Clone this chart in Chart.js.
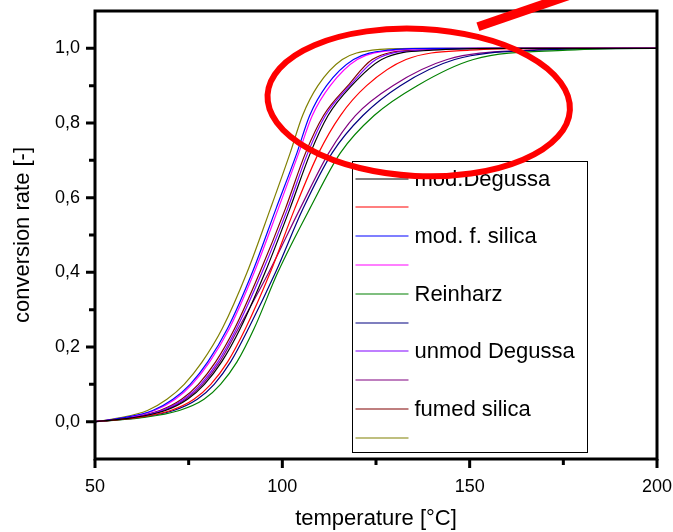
<!DOCTYPE html>
<html><head><meta charset="utf-8">
<script src="https://cdn.jsdelivr.net/npm/chart.js@4.4.0/dist/chart.umd.min.js"></script>
<style>html,body{margin:0;padding:0;background:#fff;}</style>
</head><body>
<canvas id="c" width="673" height="532"></canvas>
<script>
// ---- data ----
const seriesNames  = ['mod.Degussa', '', 'mod. f. silica', '', 'Reinharz', '', 'unmod Degussa', '', 'fumed silica', ''];
const seriesColors = ['#000000', '#ff0000', '#0000ff', '#ff00ff', '#008000', '#000080', '#8000ff', '#800080', '#800000', '#808000'];
// conversion levels at which each curve's temperature [°C] was read
const conversionLevels = [0, 0.01, 0.03, 0.06, 0.10, 0.16, 0.25, 0.40, 0.57, 0.72, 0.82, 0.90, 0.97, 0.995, 1.0, 1.0];
const tempModDegussa   = [50, 59.6, 68.8, 74.7, 79.2, 83.8, 88.8, 95.4, 102,   107.5, 112.2, 118.5, 126.5, 140, 160, 200];
const tempRed          = [50, 60.5, 70.2, 76.4, 80.9, 85.4, 90.2, 96.8, 103.3, 109.7, 115.5, 122.5, 133,   150, 170, 200];
const tempModFSilica   = [50, 57.4, 65.4, 70.8, 75.4, 80.1, 85.4, 92,   98.3,  103.9, 107.3, 111.8, 119,   128, 140, 200];
const tempMagenta      = [50, 57.7, 65.9, 71.4, 75.9, 80.6, 85.9, 92.5, 98.9,  104.4, 108,   112.8, 120,   130, 145, 200];
const tempReinharz     = [50, 62,   72.5, 79.1, 83.5, 87.9, 92.5, 98.8, 107.3, 115.5, 124.5, 136,   151,   176, 199, 200];
const tempNavy         = [50, 61,   71,   77.3, 81.8, 86.2, 91,   98.2, 105.5, 113.3, 121.5, 131.5, 146,   168, 195, 200];
const tempUnmodDegussa = [50, 59,   67.8, 73.7, 78.2, 82.8, 87.8, 94.6, 101.4, 106.8, 111.5, 118,   125,   137, 155, 200];
const tempPurple       = [50, 59.3, 68.3, 74.2, 78.7, 83.3, 88.3, 96.4, 104.7, 112.4, 119.5, 129.5, 144,   165, 190, 200];
const tempFumedSilica  = [50, 58.6, 67.3, 73.1, 77.6, 82.2, 87.3, 94,   100.8, 106.2, 111,   117.5, 124,   136, 155, 200];
const tempOlive        = [50, 56.5, 64,   69.2, 73.8, 78.6, 84,   90.6, 96.8,  102.1, 105.4, 109.5, 116,   124, 135, 200];
const seriesTemps = [tempModDegussa, tempRed, tempModFSilica, tempMagenta, tempReinharz, tempNavy,
                     tempUnmodDegussa, tempPurple, tempFumedSilica, tempOlive];

const xMajorTicks = [50, 100, 150, 200];
const xMinorTicks = [75, 125, 175];
const yMajorTicks = [0, 0.2, 0.4, 0.6, 0.8, 1.0];
const yMinorTicks = [0.1, 0.3, 0.5, 0.7, 0.9];

// annotation (data coordinates)
const ellipseCenter = {x: 136.4, y: 0.855};
const ellipseRadius = {x: 40.4, y: 0.197};
const arrowFrom = {x: 152.2, y: 1.058};
const arrowTo   = {x: 177.5, y: 1.145};

const FONT = '"Liberation Sans", Arial, sans-serif';

const decorPlugin = {
  id: 'decor',
  afterDatasetsDraw(chart) {
    const {ctx, chartArea: a, scales: {x, y}} = chart;
    ctx.save();
    // frame
    ctx.strokeStyle = '#000';
    ctx.lineWidth = 3;
    ctx.strokeRect(a.left, a.top, a.right - a.left, a.bottom - a.top);
    // ticks
    ctx.beginPath();
    xMajorTicks.forEach(v => { const p = x.getPixelForValue(v); ctx.moveTo(p, a.bottom); ctx.lineTo(p, a.bottom + 9); });
    xMinorTicks.forEach(v => { const p = x.getPixelForValue(v); ctx.moveTo(p, a.bottom); ctx.lineTo(p, a.bottom + 6); });
    yMajorTicks.forEach(v => { const p = y.getPixelForValue(v); ctx.moveTo(a.left, p); ctx.lineTo(a.left - 9, p); });
    yMinorTicks.forEach(v => { const p = y.getPixelForValue(v); ctx.moveTo(a.left, p); ctx.lineTo(a.left - 6, p); });
    ctx.stroke();

    // legend
    const lx = a.left + 257.5, ly = a.top + 150.5, lw = 235, lh = 291;
    ctx.fillStyle = '#fff';
    ctx.fillRect(lx, ly, lw, lh);
    ctx.lineWidth = 1;
    ctx.strokeStyle = '#000';
    ctx.strokeRect(lx, ly, lw, lh);
    ctx.font = '22px ' + FONT;
    ctx.textBaseline = 'middle';
    ctx.textAlign = 'left';
    seriesNames.forEach((name, i) => {
      const ry = Math.round(ly + 17 + i * 28.8);
      ctx.strokeStyle = seriesColors[i];
      ctx.lineWidth = 1.2;
      ctx.beginPath(); ctx.moveTo(lx + 3, ry); ctx.lineTo(lx + 56, ry); ctx.stroke();
      ctx.fillStyle = '#000';
      ctx.fillText(name, lx + 62, ry + 1);
    });

    // red ellipse annotation
    const cx = x.getPixelForValue(ellipseCenter.x), cy = y.getPixelForValue(ellipseCenter.y);
    const rx = x.getPixelForValue(ellipseCenter.x + ellipseRadius.x) - cx;
    const ryy = cy - y.getPixelForValue(ellipseCenter.y + ellipseRadius.y);
    ctx.strokeStyle = '#ff0000';
    ctx.lineWidth = 6;
    ctx.beginPath();
    ctx.ellipse(cx, cy, rx, ryy, 0.05, 0, Math.PI * 2);
    ctx.stroke();
    // arrow bar
    ctx.lineWidth = 9;
    ctx.lineCap = 'butt';
    ctx.beginPath();
    ctx.moveTo(x.getPixelForValue(arrowFrom.x), y.getPixelForValue(arrowFrom.y));
    ctx.lineTo(x.getPixelForValue(arrowTo.x), y.getPixelForValue(arrowTo.y));
    ctx.stroke();
    ctx.restore();
  }
};

new Chart(document.getElementById('c'), {
  type: 'line',
  data: {
    datasets: seriesTemps.map((temps, i) => ({
      label: seriesNames[i] || ('series ' + (i + 1)),
      data: temps.map((t, j) => ({x: t, y: conversionLevels[j]})),
      borderColor: seriesColors[i],
      borderWidth: 1.2,
      pointRadius: 0,
      fill: false,
      cubicInterpolationMode: 'monotone'
    }))
  },
  options: {
    responsive: false,
    animation: false,
    devicePixelRatio: 1,
    layout: {padding: {left: 0, right: 16, top: 11, bottom: 0}},
    plugins: {legend: {display: false}, tooltip: {enabled: false}},
    scales: {
      x: {
        type: 'linear', min: 50, max: 200,
        afterBuildTicks: s => { s.ticks = xMajorTicks.map(v => ({value: v})); },
        afterFit: s => { s.height = 73; s.paddingLeft = 0; s.paddingRight = 0; },
        grid: {display: false, drawTicks: false},
        border: {display: false},
        ticks: {color: '#000', font: {family: FONT, size: 18}, padding: 17, maxRotation: 0, autoSkip: false,
                callback: v => String(v)},
        title: {display: true, text: 'temperature [°C]', color: '#000', font: {family: FONT, size: 22},
                padding: {top: 0, bottom: 0}}
      },
      y: {
        type: 'linear', min: -0.1, max: 1.1,
        afterBuildTicks: s => { s.ticks = yMajorTicks.map(v => ({value: v})); },
        afterFit: s => { s.width = 95; s.paddingTop = 0; s.paddingBottom = 0; },
        grid: {display: false, drawTicks: false},
        border: {display: false},
        ticks: {color: '#000', font: {family: FONT, size: 18}, padding: 15, autoSkip: false,
                callback: v => Number(v).toFixed(1).replace('.', ',')},
        title: {display: true, text: 'conversion rate [-]', color: '#000', font: {family: FONT, size: 22},
                padding: {top: 10, bottom: 0}}
      }
    }
  },
  plugins: [decorPlugin]
});
</script>
</body></html>
